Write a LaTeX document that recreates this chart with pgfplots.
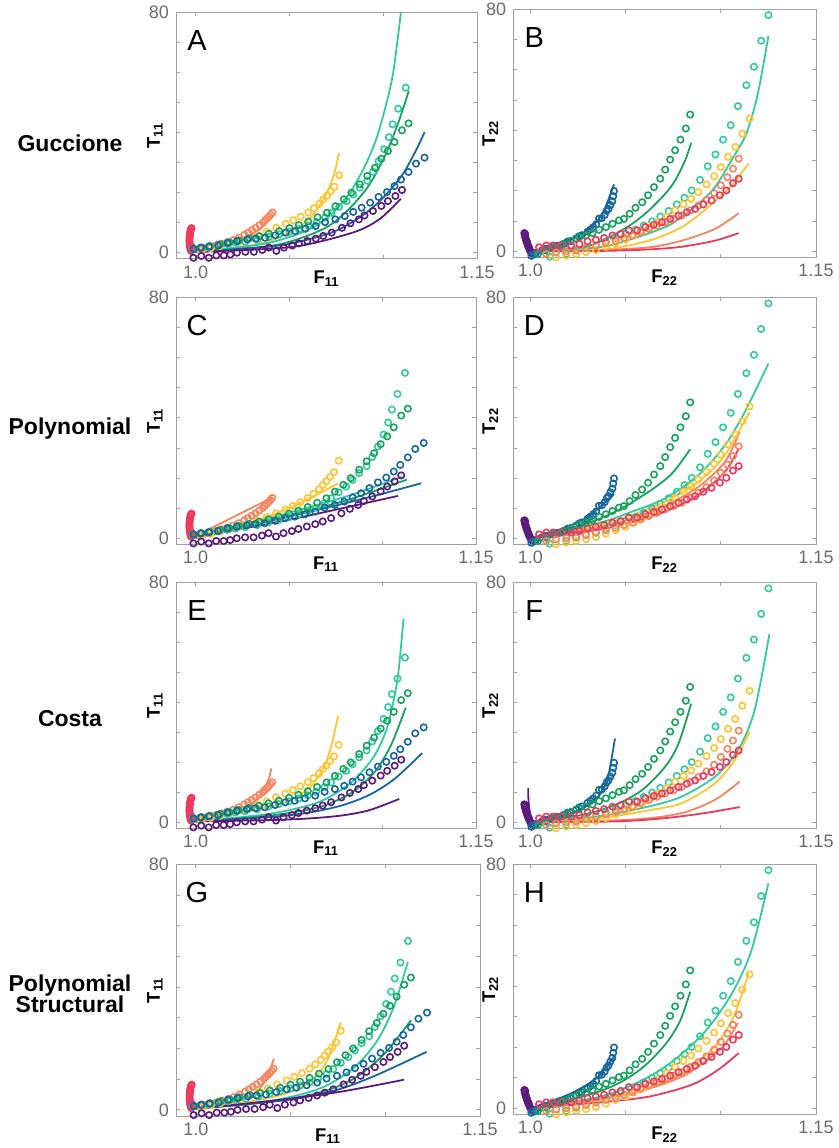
\documentclass[border=0pt]{standalone}
\usepackage{pgfplots}
\pgfplotsset{compat=1.18}
\usepackage{pgfplotstable}
\usepackage{fontspec}
\setmainfont{Liberation Sans}

\definecolor{cRed}{HTML}{EC3A5E}
\definecolor{cSal}{HTML}{F6845F}
\definecolor{cYel}{HTML}{FEC530}
\definecolor{cTur}{HTML}{33C9A1}
\definecolor{cGrn}{HTML}{18A25B}
\definecolor{cBlu}{HTML}{17679D}
\definecolor{cPur}{HTML}{5B1A7C}
\definecolor{axgray}{HTML}{A0A0A0}
\definecolor{lblgray}{HTML}{6C6C6C}

% measured stress data, direction 11 (same in every left panel)
\pgfplotstableread[row sep=\\]{
F T\\
0.9975 0.6\\ 0.9972 1.2\\ 0.9970 1.8\\ 0.9969 2.4\\ 0.9968 3.0\\ 0.9967 3.6\\ 0.9967 4.2\\ 0.9967 4.8\\
0.9968 5.4\\ 0.9969 6.0\\ 0.9970 6.6\\ 0.9972 7.2\\ 0.9974 7.8\\ 0.9978 8.2\\ 0.9980 1.0\\ 0.9978 2.0\\
}\tRa
\pgfplotstableread[row sep=\\]{
F T\\
1.002 1.0\\ 1.005 1.5\\ 1.008 2.0\\ 1.011 2.5\\ 1.014 3.0\\ 1.017 3.6\\ 1.020 4.2\\ 1.023 5.0\\
1.026 6.0\\ 1.028 6.7\\ 1.030 7.5\\ 1.032 8.3\\ 1.034 9.2\\ 1.036 10.1\\ 1.037 10.8\\ 1.038 11.4\\
1.039 12.0\\ 1.040 12.7\\ 1.041 13.4\\
}\tSa
\pgfplotstableread[row sep=\\]{
F T\\
1.003 0.8\\ 1.008 1.5\\ 1.013 2.2\\ 1.018 3.0\\ 1.023 3.8\\ 1.028 4.8\\ 1.033 5.8\\ 1.038 7.0\\
1.043 8.3\\ 1.048 9.6\\ 1.052 10.8\\ 1.056 12.0\\ 1.060 13.4\\ 1.063 14.8\\ 1.066 16.3\\ 1.068 17.7\\
1.070 19.0\\ 1.072 20.4\\ 1.074 22.0\\ 1.0765 25.8\\
}\tYa
\pgfplotstableread[row sep=\\]{
F T\\
0.9985 1.3\\ 1.003 1.7\\ 1.0075 2.0\\ 1.012 2.4\\ 1.017 2.8\\ 1.0215 3.3\\ 1.0265 3.7\\ 1.033 4.4\\
1.039 5.3\\ 1.0445 6.1\\ 1.050 7.0\\ 1.055 7.9\\ 1.060 9.0\\ 1.0645 10.2\\ 1.069 11.7\\ 1.0725 13.3\\
1.0765 15.3\\ 1.0805 17.2\\ 1.084 19.4\\ 1.0875 21.7\\ 1.0915 24.0\\ 1.0945 27.0\\ 1.0975 30.5\\
1.1005 34.5\\ 1.103 38.5\\ 1.105 42.8\\ 1.108 48.0\\ 1.112 55.0\\
}\tTa
\pgfplotstableread[row sep=\\]{
F T\\
0.999 1.2\\ 1.0025 1.6\\ 1.0075 2.2\\ 1.013 2.8\\ 1.018 3.4\\ 1.023 4.1\\ 1.0285 4.8\\ 1.034 5.5\\
1.039 6.3\\ 1.0445 7.2\\ 1.050 8.2\\ 1.055 9.2\\ 1.060 10.4\\ 1.065 11.8\\ 1.070 13.3\\ 1.0745 15.5\\
1.079 17.8\\ 1.083 20.0\\ 1.0875 22.8\\ 1.0915 25.6\\ 1.0955 28.3\\ 1.099 31.3\\ 1.1025 33.9\\
1.106 36.9\\ 1.110 40.8\\ 1.1135 43.1\\
}\tGa
\pgfplotstableread[row sep=\\]{
F T\\
0.9988 1.3\\ 1.003 1.7\\ 1.007 2.0\\ 1.012 2.4\\ 1.017 3.3\\ 1.022 3.9\\ 1.0275 4.4\\ 1.032 4.7\\
1.037 5.0\\ 1.0425 5.8\\ 1.048 6.7\\ 1.053 7.2\\ 1.0585 8.0\\ 1.064 8.9\\ 1.069 10.2\\ 1.0745 11.1\\
1.0795 12.2\\ 1.084 13.6\\ 1.0885 15.0\\ 1.093 16.7\\ 1.0975 18.6\\ 1.102 20.2\\ 1.106 22.2\\
1.1095 24.4\\ 1.1135 26.9\\ 1.1175 29.7\\ 1.122 31.7\\
}\tBa
\pgfplotstableread[row sep=\\]{
F T\\
0.9988 -1.7\\ 1.003 -1.1\\ 1.007 -1.7\\ 1.011 -0.9\\ 1.015 -0.9\\ 1.0185 -0.6\\ 1.022 0.0\\ 1.0265 0.3\\
1.031 0.3\\ 1.0355 0.9\\ 1.039 1.7\\ 1.043 0.6\\ 1.047 1.7\\ 1.0515 2.4\\ 1.055 3.1\\ 1.0595 3.9\\
1.064 4.7\\ 1.068 5.6\\ 1.0725 6.7\\ 1.078 8.3\\ 1.0825 9.8\\ 1.087 11.1\\ 1.090 12.4\\ 1.0945 13.9\\
1.099 15.6\\ 1.1025 17.2\\ 1.1065 18.9\\ 1.110 20.9\\
}\tPa

% measured stress data, direction 22 (same in every right panel)
\pgfplotstableread[row sep=\\]{
F T\\
0.9968 6.0\\ 0.9970 5.4\\ 0.9972 4.8\\ 0.9975 4.2\\ 0.9978 3.6\\ 0.9981 3.0\\ 0.9984 2.4\\ 0.9988 1.8\\
0.9992 1.2\\ 0.9996 0.6\\ 1.0000 0.0\\ 1.0005 -0.6\\ 0.9972 5.7\\ 0.9980 3.3\\ 0.9990 1.5\\
}\tPb
\pgfplotstableread[row sep=\\]{
F T\\
1.0005 -1.5\\ 1.003 -0.5\\ 1.006 0.3\\ 1.009 0.8\\ 1.012 1.3\\ 1.015 1.8\\ 1.018 2.5\\ 1.021 3.3\\
1.024 4.2\\ 1.027 5.3\\ 1.030 6.5\\ 1.033 8.0\\ 1.036 10.8\\ 1.039 12.0\\ 1.041 14.0\\ 1.043 16.5\\
1.0439 19.9\\ 1.002 -1.0\\ 1.0075 0.8\\ 1.0135 1.8\\ 1.0195 3.2\\ 1.0255 4.9\\ 1.0315 7.2\\
1.0345 8.9\\ 1.0375 11.0\\ 1.040 13.3\\ 1.042 15.3\\ 1.0435 18.2\\
}\tBb
\pgfplotstableread[row sep=\\]{
F T\\
1.004 -0.9\\ 1.0083 0.2\\ 1.0127 1.3\\ 1.017 2.4\\ 1.0214 3.5\\ 1.0257 4.6\\ 1.0292 5.2\\ 1.0326 6.0\\
1.0361 7.1\\ 1.0396 8.0\\ 1.0431 9.1\\ 1.0465 10.2\\ 1.0491 10.7\\ 1.0521 12.4\\ 1.0552 14.4\\
1.0587 16.2\\ 1.0618 18.5\\ 1.0649 21.2\\ 1.0682 24.0\\ 1.0708 27.0\\ 1.0734 30.3\\ 1.076 33.4\\
1.0788 36.9\\ 1.0816 40.6\\ 1.0839 45.2\\
}\tGb
\pgfplotstableread[row sep=\\]{
F T\\
1.0101 -1.8\\ 1.0188 -0.9\\ 1.024 0.2\\ 1.0292 1.1\\ 1.0344 1.9\\ 1.0396 3.3\\ 1.0448 4.4\\ 1.050 5.7\\
1.0552 7.1\\ 1.0595 8.5\\ 1.0639 9.9\\ 1.0682 11.5\\ 1.0726 13.3\\ 1.0769 15.5\\ 1.0809 17.7\\
1.0847 20.1\\ 1.0891 23.6\\ 1.0931 28.1\\ 1.0972 32.0\\ 1.1012 36.9\\ 1.1052 41.7\\ 1.109 48.0\\
1.1134 54.9\\ 1.1174 61.0\\ 1.1212 69.6\\ 1.125 78.1\\
}\tTb
\pgfplotstableread[row sep=\\]{
F T\\
1.0135 -2.0\\ 1.0188 -1.4\\ 1.024 -0.9\\ 1.0292 -0.3\\ 1.0344 0.4\\ 1.0396 1.5\\ 1.0448 2.7\\ 1.050 3.8\\
1.0543 5.2\\ 1.0587 6.6\\ 1.063 8.0\\ 1.0674 9.6\\ 1.0717 11.5\\ 1.076 13.5\\ 1.0804 15.5\\
1.0844 17.3\\ 1.0882 19.6\\ 1.0925 22.1\\ 1.0965 24.8\\ 1.100 27.8\\ 1.1038 31.2\\ 1.1076 34.5\\
1.1113 38.9\\ 1.1151 43.9\\
}\tYb
\pgfplotstableread[row sep=\\]{
F T\\
1.0083 -0.9\\ 1.0135 -0.4\\ 1.0188 0.0\\ 1.024 0.4\\ 1.0292 1.1\\ 1.0344 1.9\\ 1.0396 2.7\\ 1.0448 3.5\\
1.0491 4.4\\ 1.0535 5.2\\ 1.0578 6.3\\ 1.0622 7.4\\ 1.0665 8.5\\ 1.0708 9.6\\ 1.0752 10.7\\
1.0795 11.8\\ 1.0839 13.5\\ 1.0882 15.1\\ 1.0925 17.0\\ 1.0965 19.2\\ 1.100 21.8\\ 1.1035 24.5\\
1.1064 27.3\\ 1.1094 30.6\\
}\tSb
\pgfplotstableread[row sep=\\]{
F T\\
1.0045 1.3\\ 1.0083 1.9\\ 1.0118 1.9\\ 1.0161 1.9\\ 1.0214 1.9\\ 1.0257 2.4\\ 1.030 3.3\\ 1.0344 3.8\\
1.0387 4.4\\ 1.0431 5.2\\ 1.0474 5.7\\ 1.0517 6.9\\ 1.0561 6.9\\ 1.0604 8.0\\ 1.0648 8.8\\
1.0691 9.6\\ 1.0734 10.7\\ 1.0778 11.8\\ 1.0821 12.9\\ 1.0865 14.0\\ 1.0908 15.5\\ 1.0951 16.8\\
1.0995 18.5\\ 1.1029 20.1\\ 1.1064 22.5\\ 1.1094 24.0\\
}\tRb

\pgfplotsset{
  panel/.style={
    scale only axis, clip=false,
    ymin=-2, ymax=80, xmax=1.15,
    ytick={0,10,...,80}, yticklabels={0,,,,,,,,80},
    xtick={1,1.05,1.1,1.15}, xticklabels={1.0,,,1.15},
    tick align=inside, tick pos=both,
    major tick length=1.8pt,
    axis line style={draw=axgray, line width=0.5pt},
    tick style={draw=axgray, line width=0.5pt},
    tick label style={font=\fontsize{9}{10}\selectfont, text=lblgray},
    label style={font=\fontsize{9.2}{10}\selectfont\bfseries},
    xlabel style={at={([yshift=-10pt]axis description cs:0.5,0)}, anchor=center},
  },
  left panel/.style={panel, xmin=0.9895,
    xlabel={F\textsubscript{11}}, ylabel={T\textsubscript{11}},
    ylabel style={at={([xshift=-10.5pt]axis description cs:0,0.5)}, anchor=center}},
  right panel/.style={panel, xmin=0.991,
    xlabel={F\textsubscript{22}}, ylabel={T\textsubscript{22}},
    ylabel style={at={([xshift=-11.5pt]axis description cs:0,0.5)}, anchor=center}},
  dat/.style={only marks, mark=o, color=#1, mark size=1.6pt, mark options={line width=0.8pt}},
  fit/.style={no marks, smooth, color=#1, line width=0.9pt},
}

\newcommand{\letter}[1]{\node[font=\fontsize{14.5}{15}\selectfont] at ([xshift=10.5pt,yshift=-14pt]rel axis cs:0,1) {#1};}
\newcommand{\dataleft}{%
  \addplot[dat=cRed] table[x=F,y=T]{\tRa};
  \addplot[dat=cSal] table[x=F,y=T]{\tSa};
  \addplot[dat=cYel] table[x=F,y=T]{\tYa};
  \addplot[dat=cTur] table[x=F,y=T]{\tTa};
  \addplot[dat=cGrn] table[x=F,y=T]{\tGa};
  \addplot[dat=cBlu] table[x=F,y=T]{\tBa};
  \addplot[dat=cPur] table[x=F,y=T]{\tPa};}
\newcommand{\dataright}{%
  \addplot[dat=cPur] table[x=F,y=T]{\tPb};
  \addplot[dat=cBlu] table[x=F,y=T]{\tBb};
  \addplot[dat=cGrn] table[x=F,y=T]{\tGb};
  \addplot[dat=cTur] table[x=F,y=T]{\tTb};
  \addplot[dat=cYel] table[x=F,y=T]{\tYb};
  \addplot[dat=cSal] table[x=F,y=T]{\tSb};
  \addplot[dat=cRed] table[x=F,y=T]{\tRb};}

\begin{document}
\begin{tikzpicture}
\path[use as bounding box] (0pt,0pt) rectangle (419.5pt,-574pt);

% ---------- Guccione ----------
\begin{axis}[left panel, at={(88pt,-6.35pt)}, anchor=north west, width=150.5pt, height=123pt]
\dataleft
\addplot[fit=cRed] coordinates {(0.998,0) (0.997,4) (0.9975,8)};
\addplot[fit=cSal] coordinates {(1.0,0.5) (1.01,1.5) (1.02,3.2) (1.03,6) (1.036,8.8) (1.041,12.5)};
\addplot[fit=cYel] coordinates {(1.0,0.6) (1.0214,1.7) (1.0391,3.9) (1.0532,7.8) (1.062,12.2) (1.0691,18.9) (1.0735,25.6) (1.0765,33.3)};
\addplot[fit=cTur] coordinates {(1.0,0.6) (1.0214,1.7) (1.0391,3.3) (1.0567,6.7) (1.0691,11.1) (1.0797,17.8) (1.0885,26.7) (1.0956,36.7) (1.1009,47.8) (1.1053,60) (1.1094,80)};
\addplot[fit=cGrn] coordinates {(1.0,0.3) (1.0391,2.2) (1.0567,5) (1.0709,8.9) (1.0815,14.4) (1.0921,22.2) (1.1009,32.2) (1.108,43.3) (1.1136,53.9)};
\addplot[fit=cBlu] coordinates {(1.0,0.3) (1.0391,2) (1.0567,3.9) (1.0744,7.2) (1.0885,12.2) (1.0991,17.8) (1.1098,25.6) (1.1168,33.3) (1.1221,40.2)};
\addplot[fit=cPur] coordinates {(1.0,0.2) (1.0391,1.3) (1.0567,2.4) (1.0744,5) (1.0885,7.8) (1.0991,11.7) (1.1094,18)};
\letter{A}
\end{axis}

\begin{axis}[right panel, at={(256.65pt,-4.65pt)}, anchor=north west, width=151.35pt, height=124pt]
\dataright
\addplot[fit=cPur] coordinates {(0.9968,6) (1.0,0)};
\addplot[fit=cBlu] coordinates {(1.0,0) (1.0118,1.3) (1.0222,4.1) (1.0309,7.4) (1.0378,12.4) (1.0439,22.1)};
\addplot[fit=cGrn] coordinates {(1.0,0) (1.0274,1.3) (1.0413,4.6) (1.0535,9.1) (1.0622,13.5) (1.0708,19) (1.076,23.4) (1.0813,30.1) (1.0844,35.8)};
\addplot[fit=cTur] coordinates {(1.0,0) (1.0361,1.3) (1.0535,4.1) (1.0708,8) (1.0795,11.3) (1.0882,15.7) (1.0969,21.2) (1.1056,30.1) (1.1134,38.9) (1.1194,52) (1.125,71.2)};
\addplot[fit=cYel] coordinates {(1.0,0) (1.0361,0.4) (1.0622,3.5) (1.0795,8) (1.0934,14.6) (1.1056,21.8) (1.1146,29)};
\addplot[fit=cSal] coordinates {(1.0,0) (1.0361,0.4) (1.0622,1.3) (1.0795,3.5) (1.0969,7.4) (1.1094,12.6)};
\addplot[fit=cRed] coordinates {(1.0,0) (1.0361,0.1) (1.0622,0.6) (1.0795,1.5) (1.0969,3.5) (1.1094,6)};
\letter{B}
\end{axis}

% ---------- Polynomial ----------
\begin{axis}[left panel, at={(88pt,-148.85pt)}, anchor=north west, width=150pt, height=123.3pt]
\dataleft
\addplot[fit=cSal] coordinates {(1.0,0.8) (1.02,7) (1.0412,13.6)};
\addplot[fit=cYel] coordinates {(1.0,0.3) (1.03,5.5) (1.05,10) (1.0762,18.2)};
\addplot[fit=cTur] coordinates {(1.0,0.2) (1.04,6.8) (1.08,13.8) (1.1105,20.5)};
\addplot[fit=cGrn] coordinates {(1.0,0.2) (1.04,6) (1.08,12.5) (1.113,19.5)};
\addplot[fit=cBlu] coordinates {(1.0,0.2) (1.05,7.2) (1.09,13.2) (1.1207,18.3)};
\addplot[fit=cPur] coordinates {(1.0,0.2) (1.05,6.2) (1.08,10.2) (1.1083,14.1)};
\letter{C}
\end{axis}

\begin{axis}[right panel, at={(256.65pt,-148.85pt)}, anchor=north west, width=151.35pt, height=123.3pt]
\dataright
\addplot[fit=cPur] coordinates {(0.9968,5.5) (1.0,0)};
\addplot[fit=cBlu] coordinates {(1.0,0) (1.01,1.8) (1.02,4.0) (1.03,7) (1.0439,14.6)};
\addplot[fit=cGrn] coordinates {(1.0,0) (1.0274,4.5) (1.0448,8.9) (1.0622,15.5) (1.0743,21.5) (1.0839,29.6)};
\addplot[fit=cTur] coordinates {(1.0,0) (1.0361,5.1) (1.0535,8.9) (1.0708,13.3) (1.0882,21) (1.1021,30.9) (1.1125,41.9) (1.125,58.1)};
\addplot[fit=cYel] coordinates {(1.0,0) (1.0361,4.3) (1.0535,7.8) (1.0708,12.2) (1.0882,18.8) (1.1021,27.6) (1.1151,42)};
\addplot[fit=cSal] coordinates {(1.0,0) (1.0361,3.6) (1.0535,6.7) (1.0708,10.9) (1.0882,17.1) (1.1021,25.4) (1.1099,35.3)};
\addplot[fit=cRed] coordinates {(1.0,0) (1.0361,2.9) (1.0535,5.4) (1.0708,8.9) (1.0882,14.4) (1.1021,22.1) (1.1094,29.8)};
\letter{D}
\end{axis}

% ---------- Costa ----------
\begin{axis}[left panel, at={(88pt,-291.35pt)}, anchor=north west, width=150pt, height=122.8pt]
\dataleft
\addplot[fit=cSal] coordinates {(1.0,0.6) (1.0214,2.8) (1.0302,6.1) (1.0355,10) (1.0391,14.4) (1.0405,18)};
\addplot[fit=cYel] coordinates {(1.0,0.6) (1.0302,3.9) (1.0479,6.7) (1.0603,11.1) (1.0682,17.8) (1.0726,25.6) (1.0762,35.6)};
\addplot[fit=cTur] coordinates {(1.0,0.3) (1.039,2.8) (1.0656,6.7) (1.0832,13.3) (1.0956,22.2) (1.1027,32.2) (1.108,47.8) (1.1112,68)};
\addplot[fit=cGrn] coordinates {(1.0,0.3) (1.039,2.2) (1.0656,5) (1.0832,9.8) (1.0956,16.7) (1.1044,25.6) (1.1124,38.3)};
\addplot[fit=cBlu] coordinates {(1.0,0.3) (1.0479,2.2) (1.0744,5) (1.0921,8.9) (1.1062,14.4) (1.1212,23.1)};
\addplot[fit=cPur] coordinates {(1.0,0.3) (1.0479,0.9) (1.0744,2) (1.0921,3.9) (1.1089,7.8)};
\letter{E}
\end{axis}

\begin{axis}[right panel, at={(256.65pt,-291.35pt)}, anchor=north west, width=151.35pt, height=122.8pt]
\dataright
\addplot[fit=cPur] coordinates {(0.9988,11.4) (0.999,7) (1.0,2) (1.001,0)};
\addplot[fit=cBlu] coordinates {(1.0,0) (1.0188,2.5) (1.0292,5.3) (1.0361,9) (1.0405,14.5) (1.0444,28)};
\addplot[fit=cGrn] coordinates {(1.0,0) (1.0274,2.5) (1.0448,5.9) (1.0587,10.8) (1.0708,18.6) (1.0778,26.3) (1.0844,39.6)};
\addplot[fit=cTur] coordinates {(1.0,0) (1.0361,2) (1.0622,5.3) (1.0795,8.6) (1.0969,15.2) (1.109,24.1) (1.1177,37.3) (1.1255,62.8)};
\addplot[fit=cYel] coordinates {(1.0,0) (1.0361,1.4) (1.0622,4) (1.0795,6.4) (1.0969,13) (1.1073,20.8) (1.1151,30.2)};
\addplot[fit=cSal] coordinates {(1.0,0) (1.0535,0.9) (1.0795,3.1) (1.0969,7.5) (1.1099,13.6)};
\addplot[fit=cRed] coordinates {(1.0,0) (1.0448,0.3) (1.0708,1.4) (1.0917,3.1) (1.1099,5.1)};
\letter{F}
\end{axis}

% ---------- Polynomial Structural ----------
\begin{axis}[left panel, at={(88pt,-432.15pt)}, anchor=north west, width=152pt, height=125.85pt]
\dataleft
\addplot[fit=cSal] coordinates {(1.0,0.4) (1.0214,2.6) (1.032,5.9) (1.0373,10.3) (1.0412,16.7)};
\addplot[fit=cYel] coordinates {(1.0,0.4) (1.0302,2.9) (1.0479,5.4) (1.0603,9.2) (1.0691,15.8) (1.0765,28.5)};
\addplot[fit=cTur] coordinates {(1.0,0.4) (1.039,2.9) (1.0656,7) (1.0832,13.6) (1.0956,22.4) (1.1044,33.4) (1.1119,48.2)};
\addplot[fit=cGrn] coordinates {(1.0,0.4) (1.039,2.6) (1.0656,5.7) (1.0832,10.1) (1.0991,18) (1.1136,29.2)};
\addplot[fit=cBlu] coordinates {(1.0,0.4) (1.0479,3.2) (1.0744,6.5) (1.0956,11.4) (1.1218,18.9)};
\addplot[fit=cPur] coordinates {(1.0,0.4) (1.039,2.9) (1.0744,5.7) (1.1098,9.8)};
\letter{G}
\end{axis}

\begin{axis}[right panel, at={(256.65pt,-432.15pt)}, anchor=north west, width=151.35pt, height=125pt]
\dataright
\addplot[fit=cPur] coordinates {(0.9968,5.5) (1.0,0)};
\addplot[fit=cBlu] coordinates {(1.0,0) (1.02,4.5) (1.035,10) (1.044,17)};
\addplot[fit=cGrn] coordinates {(1.0,0) (1.0274,3.8) (1.0448,7.7) (1.0587,13.2) (1.0708,20.9) (1.0786,28.6) (1.0839,38.2)};
\addplot[fit=cTur] coordinates {(1.0,0) (1.0361,3.7) (1.0569,8.6) (1.0743,15.2) (1.0917,25.1) (1.1056,37.4) (1.116,51.6) (1.125,73.8)};
\addplot[fit=cYel] coordinates {(1.0,0) (1.0361,2.7) (1.0622,6.6) (1.0813,12.1) (1.0969,20.3) (1.1073,30.8) (1.1146,44.5)};
\addplot[fit=cSal] coordinates {(1.0,0) (1.05,4.5) (1.08,10.5) (1.1,19.5) (1.109,28)};
\addplot[fit=cRed] coordinates {(1.0,0) (1.0361,1.9) (1.0622,3.8) (1.0847,7.7) (1.0986,12.6) (1.1094,18.1)};
\letter{H}
\end{axis}

% row labels
\begin{scope}[every node/.style={font=\fontsize{11.5}{10.75}\selectfont\bfseries, align=center}]
\node at (35pt,-71.75pt) {Guccione};
\node at (35pt,-214.5pt) {Polynomial};
\node at (35pt,-359.5pt) {Costa};
\node at (35pt,-497pt) {Polynomial\\Structural};
\end{scope}
\end{tikzpicture}
\end{document}
